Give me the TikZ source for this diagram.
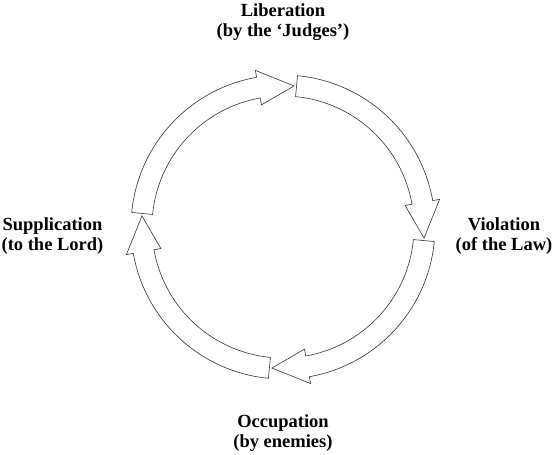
\documentclass[tikz,border=0pt]{standalone}
\usepackage{fontspec}
\setmainfont{Liberation Serif}
\begin{document}
\begin{tikzpicture}[x=1pt,y=1pt,
  cyclearrow/.style={draw=black!80, line width=0.6pt, fill=white, line join=miter},
  stagelabel/.style={align=center, inner sep=0pt, font=\fontsize{18.5}{20.5}\selectfont\bfseries}]
\useasboundingbox (0,0) rectangle (555,455);
\coordinate (C) at (283,228);
% four hollow arrows around the circle, clockwise
\foreach \T in {85.5,-4.5,-94.5,175.5}{
  \pgfmathsetmacro{\A}{\T+89}
  \pgfmathsetmacro{\B}{\T+14.5}
  \draw[cyclearrow, shift={(C)}]
    (\A:152pt) arc[start angle=\A, end angle=\B, radius=152pt]
    -- (\B:159pt) -- (\T:141.5pt) -- (\B:124pt) -- (\B:131pt)
    arc[start angle=\B, end angle=\A, radius=131pt] -- cycle;
}
\node[stagelabel] (lib) at (283,433) {Liberation\\(by the ‘Judges’)};
\node[stagelabel] (vio) at (504,219) {Violation\\(of the Law)};
\node[stagelabel] (occ) at (283,22) {Occupation\\(by enemies)};
\node[stagelabel] (sup) at (52.5,219) {Supplication\\(to the Lord)};
\end{tikzpicture}
\end{document}
